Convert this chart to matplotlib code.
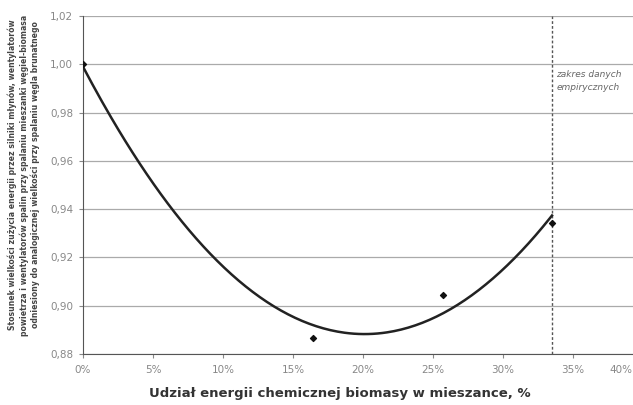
import numpy as np
import matplotlib
matplotlib.use("Agg")
import matplotlib.pyplot as plt
from matplotlib.ticker import FuncFormatter

# Data
share_pct = [0.0, 16.4, 25.7, 33.5]
ratio = [1.000, 0.8866, 0.9044, 0.9342]
x_ticks = [0, 5, 10, 15, 20, 25, 30, 35, 40]
y_ticks = [0.88, 0.90, 0.92, 0.94, 0.96, 0.98, 1.00, 1.02]
empirical_limit = 33.5

plt.rcParams['font.family'] = ['DejaVu Sans']

fig = plt.figure(figsize=(6.33, 4.05), dpi=100)
ax = fig.add_axes([83/633, 1 - 354/405, 560/633, 338/405])

# Polynomial (2nd order) trendline through the data
coef = np.polyfit(share_pct, ratio, 2)
xs = np.linspace(0, max(share_pct), 200)
ax.plot(xs, np.polyval(coef, xs), color='#222222', lw=1.8, zorder=3)
ax.scatter(share_pct, ratio, marker='D', s=9, color='#111111', zorder=4)

ax.axvline(empirical_limit, color='#555555', lw=1.0, ls=(0, (2, 1.5)), zorder=2)
ax.text(empirical_limit + 0.3, 0.993, 'zakres danych\nempirycznych', fontsize=6.5,
        color='#666666', ha='left', va='center', style='italic', linespacing=1.6)

ax.set_xlim(0, 40)
ax.set_ylim(0.88, 1.02)
ax.set_xticks(x_ticks)
ax.set_yticks(y_ticks)
last_x = x_ticks[-1]
ax.xaxis.set_major_formatter(FuncFormatter(
    lambda v, p: '' if v >= last_x else f"{int(round(v))}%"))
ax.yaxis.set_major_formatter(FuncFormatter(lambda v, p: f"{v:.2f}".replace('.', ',')))
ax.tick_params(axis='both', colors='#888888', labelsize=7.5, length=3, width=0.8)
ax.tick_params(axis='y', pad=4)
ax.tick_params(axis='x', pad=5)
# last tick label, pulled in so it stays inside the picture
fig.text(632/633, 1 - 370/405, f"{last_x}%", ha='right', va='center',
         fontsize=7.5, color='#888888')

ax.grid(axis='y', color='#aaaaaa', lw=0.9)
ax.set_axisbelow(True)
for s in ['top', 'right']:
    ax.spines[s].set_visible(False)
ax.spines['left'].set_color('#555555')
ax.spines['bottom'].set_color('#555555')

fig.text(340/633, 1 - 393/405, 'Udział energii chemicznej biomasy w mieszance, %',
         ha='center', va='center', fontsize=9.5, fontweight='bold', color='#333333')

fig.text(24/633, 1 - 175/405,
         'Stosunek wielkości zużycia energii przez silniki młynów, wentylatorów\n'
         'powietrza i wentylatorów spalin przy spalaniu mieszanki węgiel-biomasa\n'
         'odniesiony do analogicznej wielkości przy spalaniu węgla brunatnego',
         rotation=90, ha='center', va='center', fontsize=5.6, fontweight='bold',
         color='#444444', linespacing=1.25)

fig.savefig('out.png', dpi=100)
